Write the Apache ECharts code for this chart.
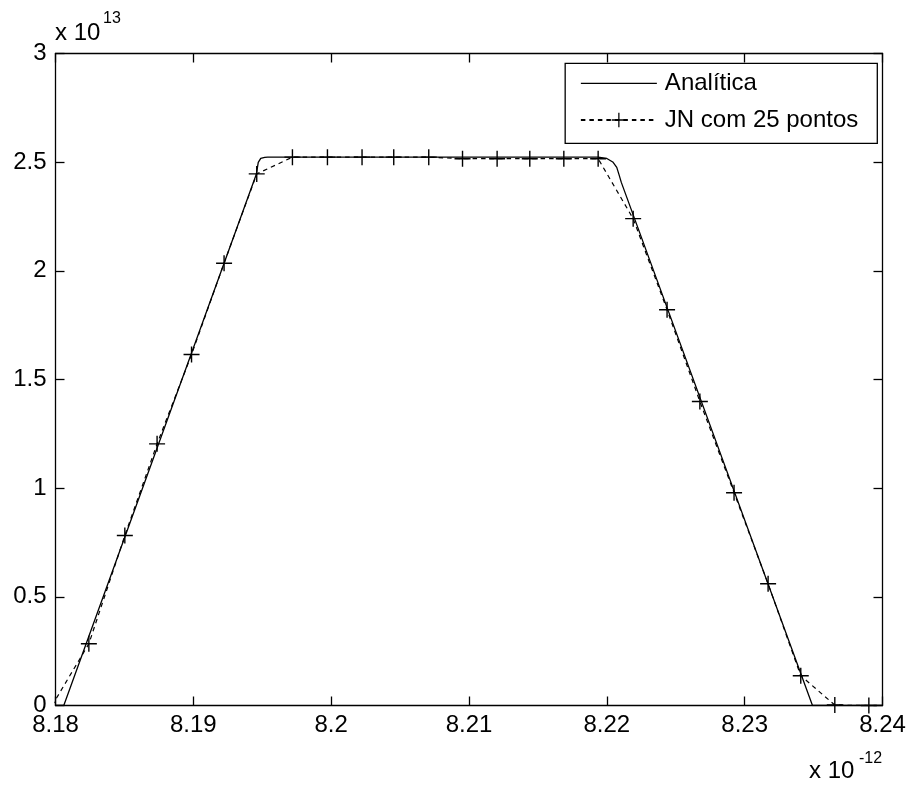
<!DOCTYPE html>
<html>
<head>
<meta charset="utf-8">
<title>Analítica x JN com 25 pontos</title>
<script src="https://cdn.jsdelivr.net/npm/echarts@6/dist/echarts.min.js"></script>
<style>
  html, body { margin: 0; padding: 0; background: #fff; }
  #chart { width: 910px; height: 787px; }
</style>
</head>
<body>
<div id="chart"></div>
<script>
// x em unidades de 1e-12, y em unidades de 1e13
const analiticaX = [8.18, 8.1806, 8.19457, 8.19471, 8.19489, 8.19518, 8.1954, 8.21937, 8.22, 8.22043, 8.22072, 8.2209, 8.22105, 8.23492, 8.24]
const analiticaY = [0, 0, 2.444, 2.499, 2.517, 2.522, 2.523, 2.523, 2.517, 2.501, 2.476, 2.439, 2.407, 0, 0]

const jnX = [8.17975, 8.18242, 8.18503, 8.18737, 8.18987, 8.19223, 8.1946, 8.19719, 8.19973, 8.20224,
  8.20454, 8.20708, 8.20953, 8.21204, 8.21441, 8.21688, 8.21937, 8.22191, 8.22437, 8.22675,
  8.22923, 8.2317, 8.23407, 8.23654, 8.23901]
const jnY = [0, 0.284, 0.782, 1.204, 1.615, 2.035, 2.446, 2.523, 2.523, 2.523,
  2.523, 2.523, 2.516, 2.516, 2.516, 2.516, 2.516, 2.24, 1.821, 1.399,
  0.979, 0.56, 0.137, 0.002, 0]

const seriesNames = ['Analítica', 'JN com 25 pontos']

const fonte = "'Liberation Sans', Arial, sans-serif"
const cor = '#000'
const plus = 'path://M0,7.3H16V8.7H0Z M7.3,0H8.7V16H7.3Z'

const eixoBase = {
  type: 'value',
  axisLine: { show: true, onZero: false, lineStyle: { color: cor, width: 1.3 } },
  axisTick: { show: true, inside: true, length: 9, lineStyle: { color: cor, width: 1.3 } },
  splitLine: { show: false },
  minorTick: { show: false }
}
const rotulo = { fontFamily: fonte, fontSize: 24, color: cor }

const chart = echarts.init(document.getElementById('chart'), null, { renderer: 'canvas' })

const option = {
  animation: false,
  backgroundColor: '#fff',
  grid: { left: 55.5, top: 53.5, width: 827, height: 652, show: false, outerBoundsMode: 'none' },
  xAxis: [
    { ...eixoBase, position: 'bottom', min: 8.18, max: 8.24, interval: 0.01,
      axisLabel: { ...rotulo, margin: 8 } },
    { ...eixoBase, position: 'top', min: 8.18, max: 8.24, interval: 0.01,
      axisLabel: { show: false } }
  ],
  yAxis: [
    { ...eixoBase, position: 'left', min: 0, max: 3, interval: 0.5,
      axisLabel: { ...rotulo, margin: 9 } },
    { ...eixoBase, position: 'right', min: 0, max: 3, interval: 0.5,
      axisLabel: { show: false } }
  ],
  legend: {
    orient: 'vertical',
    right: 32.7,
    top: 63.3,
    padding: [8, 19, 11.3, 14.7],
    itemWidth: 76,
    itemHeight: 18,
    itemGap: 12.7,
    borderColor: cor,
    borderWidth: 1.3,
    borderRadius: 0,
    backgroundColor: '#fff',
    selectedMode: false,
    textStyle: { fontFamily: fonte, fontSize: 24, color: cor, lineHeight: 24, padding: [0, 0, 0, 3] },
    data: [
      { name: seriesNames[0], icon: 'path://M0,0H76V1.3H0Z', itemStyle: { color: cor, borderWidth: 0 } },
      { name: seriesNames[1] }
    ]
  },
  graphic: [
    { type: 'text', x: 55, y: 33.3, style: { text: 'x 10', font: '24px ' + fonte, fill: cor, align: 'left', verticalAlign: 'middle' } },
    { type: 'text', x: 103, y: 18.3, style: { text: '13', font: '16px ' + fonte, fill: cor, align: 'left', verticalAlign: 'middle' } },
    { type: 'text', x: 809, y: 771.7, style: { text: 'x 10', font: '24px ' + fonte, fill: cor, align: 'left', verticalAlign: 'middle' } },
    { type: 'text', x: 859, y: 758.3, style: { text: '-12', font: '16px ' + fonte, fill: cor, align: 'left', verticalAlign: 'middle' } }
  ],
  series: [
    {
      name: seriesNames[0],
      type: 'line',
      data: analiticaX.map((x, i) => [x, analiticaY[i]]),
      symbol: 'none',
      showSymbol: false,
      lineStyle: { color: cor, width: 1.3, type: 'solid' },
      itemStyle: { color: cor, borderWidth: 0 },
      emphasis: { disabled: true },
      silent: true,
      clip: true,
      z: 2
    },
    {
      name: seriesNames[1],
      type: 'line',
      data: jnX.map((x, i) => [x, jnY[i]]),
      symbol: plus,
      symbolSize: 16,
      showSymbol: true,
      lineStyle: { color: cor, width: 1.2, type: [4.5, 4] },
      itemStyle: { color: cor, borderWidth: 0 },
      emphasis: { disabled: true },
      silent: true,
      clip: true,
      z: 3
    }
  ]
}

chart.setOption(option)
window.addEventListener('resize', () => chart.resize())
</script>
</body>
</html>
